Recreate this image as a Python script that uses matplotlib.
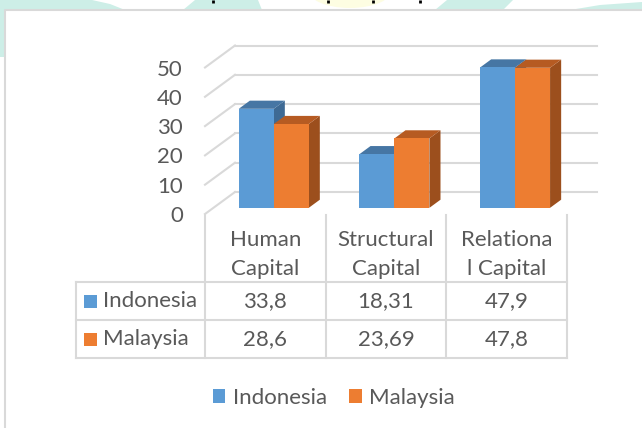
import matplotlib
matplotlib.use("Agg")
import matplotlib.pyplot as plt
from matplotlib.patches import Polygon, Rectangle, Patch, Ellipse
from matplotlib.transforms import ScaledTranslation, IdentityTransform
import numpy as np

# ---------------- data ----------------
categories = ["Human Capital", "Structural Capital", "Relational Capital"]
category_labels = ["Human\nCapital", "Structural\nCapital", "Relationa\nl Capital"]
series = ["Indonesia", "Malaysia"]
indonesia = [33.8, 18.31, 47.9]
malaysia = [28.6, 23.69, 47.8]
y_ticks = [0, 10, 20, 30, 40, 50]

# ---------------- style ----------------
FONT = "Lato"
TEXT = "#595959"
GRID = "#d9d9d9"
FRONT = ["#5B9BD5", "#ED7D31"]
TOP = ["#4676A4", "#B65B22"]
SIDE = ["#3E6A94", "#9C4F1D"]
TEAL = "#cdeee7"
FS = 16

W, H, DPI = 642, 428, 100
fig = plt.figure(figsize=(W / DPI, H / DPI), dpi=DPI)
fig.patch.set_facecolor("white")

# overlay axes in pixel coordinates (decoration, table, legend)
ov = fig.add_axes([0, 0, 1, 1], zorder=0)
ov.set_xlim(0, W)
ov.set_ylim(H, 0)
ov.axis("off")

# page decoration around the chart box
ov.add_patch(Polygon([(0, 0), (92, 0), (110, 4), (125, 10), (5, 10), (5, 57), (0, 57)],
                     closed=True, color=TEAL, lw=0))
ov.add_patch(Polygon([(183, 10), (195, 0), (258, 0), (262, 10)], closed=True, color=TEAL, lw=0))
ov.add_patch(Ellipse((350, -10), 84, 36, color="#fdfde2", lw=0))
ov.add_patch(Polygon([(435, 10), (447, 0), (513, 0), (503, 10)], closed=True, color=TEAL, lw=0))
ov.add_patch(Polygon([(570, 10), (600, 5), (642, 2), (642, 10)], closed=True, color=TEAL, lw=0))
for mx in [213, 328, 373, 420]:
    ov.plot([mx, mx], [0, 2.5], color="black", lw=2, solid_capstyle="butt")
# chart box
ov.add_patch(Rectangle((5, 10), W - 5, H - 10, facecolor="white", edgecolor="none"))
ov.plot([5, 5, W], [H, 10, 10], color=GRID, lw=1.5)

# ---------------- plot area (front plane) ----------------
X0, X1 = 205, 567
Y0, Y50 = 214, 67.5
ax = fig.add_axes([X0 / W, 1 - Y0 / H, (X1 - X0) / W, (Y0 - Y50) / H], zorder=2)
ax.set_xlim(0, len(categories))
ax.set_ylim(0, 50)
ax.patch.set_alpha(0)
for s in ax.spines.values():
    s.set_visible(False)
ax.set_xticks([])
ax.set_yticks(y_ticks)
ax.set_yticklabels([str(t) for t in y_ticks], fontfamily=FONT)
ax.tick_params(axis="y", length=0, pad=16, labelsize=FS, labelcolor=TEXT)

DX, DY = 30.0, 22.0   # depth offset in pixels
D0, D1 = 0.28, 0.65   # bar front / back depth
BW = 0.29


def depth_tr(d):
    return ax.transData + ScaledTranslation(DX * d / DPI, DY * d / DPI, fig.dpi_scale_trans)


def P(x, y, d):
    px, py = ax.transData.transform((x, y))
    return (px + DX * d, py + DY * d)


# back wall gridlines and side-wall diagonals
for v in y_ticks:
    ax.plot([0, len(categories)], [v, v], transform=depth_tr(1.0), color=GRID, lw=1.5,
            clip_on=False, zorder=1)
    a, b = P(0, v, 0), P(0, v, 1)
    ax.plot([a[0], b[0]], [a[1], b[1]], transform=IdentityTransform(), color=GRID, lw=1.5,
            clip_on=False, zorder=1)

# 3D bars
data = [indonesia, malaysia]
for i in range(len(categories)):
    for j, vals in enumerate(data):
        v = vals[i]
        xl = i + 0.5 - BW + j * BW
        xr = xl + BW
        z = 3 + i * 10 + j * 3
        side = [P(xr, 0, D0), P(xr, v, D0), P(xr, v, D1), P(xr, 0, D1)]
        top = [P(xl, v, D0), P(xr, v, D0), P(xr, v, D1), P(xl, v, D1)]
        ax.add_patch(Polygon(side, closed=True, transform=IdentityTransform(),
                             facecolor=SIDE[j], edgecolor="none", clip_on=False, zorder=z))
        ax.add_patch(Polygon(top, closed=True, transform=IdentityTransform(),
                             facecolor=TOP[j], edgecolor="none", clip_on=False, zorder=z + 1))
        ax.bar(xl, v, width=BW, align="edge", color=FRONT[j], lw=0,
               transform=depth_tr(D0), clip_on=False, zorder=z + 2)

# ---------------- data table ----------------
fig.canvas.draw()
bx = [P(k, 0, 0)[0] for k in range(len(categories) + 1)]
TL = 76
rows_y = [282, 320, 358]
for x in bx:
    ov.plot([x, x], [215, rows_y[-1]], color=GRID, lw=1.5)
ov.plot([TL, TL], [rows_y[0], rows_y[-1]], color=GRID, lw=1.5)
for y in rows_y:
    ov.plot([TL, bx[-1]], [y, y], color=GRID, lw=1.5)

for i, lab in enumerate(category_labels):
    cx = (bx[i] + bx[i + 1]) / 2
    ov.text(cx, 254.5, lab, ha="center", va="center", fontsize=FS, color=TEXT,
            fontfamily=FONT, linespacing=1.6)

for j, (name, vals) in enumerate(zip(series, data)):
    cy = (rows_y[j] + rows_y[j + 1]) / 2
    ov.add_patch(Rectangle((84, cy - 6.5), 13, 13, facecolor=FRONT[j], edgecolor="none"))
    ov.text(103, cy, name, ha="left", va="center", fontsize=FS, color=TEXT, fontfamily=FONT)
    for i, v in enumerate(vals):
        cx = (bx[i] + bx[i + 1]) / 2
        ov.text(cx, cy, f"{v:g}".replace(".", ","), ha="center", va="center",
                fontsize=FS, color=TEXT, fontfamily=FONT)

# ---------------- legend ----------------
handles = [Patch(facecolor=FRONT[j], edgecolor="none", label=series[j]) for j in range(2)]
fig.legend(handles=handles, loc="center", bbox_to_anchor=(334 / W, 1 - 398 / H), ncol=2,
           frameon=False, prop={"family": FONT, "size": FS}, labelcolor=TEXT,
           handlelength=0.55, handleheight=0.55, handletextpad=0.35, columnspacing=1.0)

fig.savefig("out.png", dpi=DPI, facecolor="white")
